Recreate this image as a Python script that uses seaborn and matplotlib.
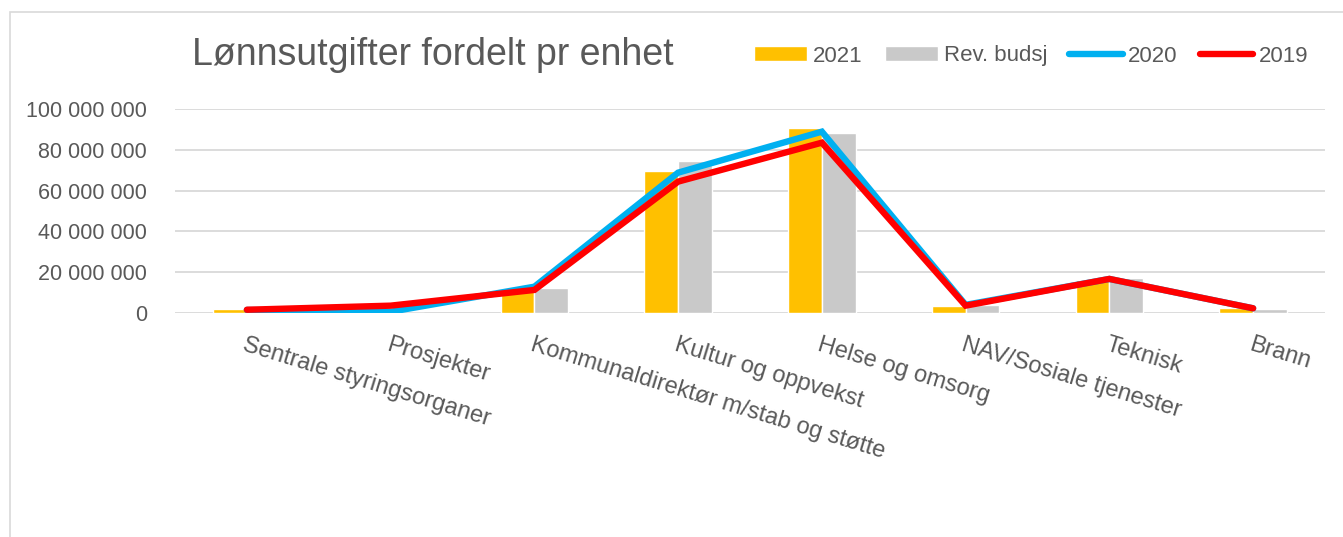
import seaborn as sns
import matplotlib.pyplot as plt
import matplotlib.ticker as mticker
import pandas as pd
import numpy as np

enheter = ["Sentrale styringsorganer", "Prosjekter", "Kommunaldirektør m/stab og støtte",
           "Kultur og oppvekst", "Helse og omsorg", "NAV/Sosiale tjenester", "Teknisk", "Brann"]
v2021 = [1.8e6, 0.1e6, 11.6e6, 69.6e6, 90.8e6, 3.4e6, 16.2e6, 2.5e6]
rev_budsj = [0.1e6, 0.1e6, 12.1e6, 74.7e6, 88.2e6, 3.9e6, 17.2e6, 2.0e6]
v2020 = [1.5e6, 0.6e6, 12.9e6, 68.8e6, 88.9e6, 4.0e6, 16.7e6, 2.3e6]
v2019 = [1.6e6, 3.6e6, 11.3e6, 64.4e6, 83.5e6, 3.6e6, 16.7e6, 2.3e6]

sns.set_theme(style="white")
plt.rcParams["font.family"] = ["Liberation Sans", "DejaVu Sans"]
grey_text = "#595959"

bars = pd.DataFrame({
    "enhet": enheter * 2,
    "verdi": v2021 + rev_budsj,
    "serie": ["2021"] * len(enheter) + ["Rev. budsj"] * len(enheter),
})
pos = np.arange(len(enheter))
lines = pd.DataFrame({
    "pos": np.concatenate([pos, pos]),
    "verdi": v2020 + v2019,
    "serie": ["2020"] * len(enheter) + ["2019"] * len(enheter),
})

fig = plt.figure(figsize=(13.43, 5.37), dpi=100)
fig.patches.append(plt.Rectangle((10 / 1343, -0.01), 1.1, 1 - 12 / 537 + 0.01, transform=fig.transFigure,
                                 fill=False, edgecolor="#d9d9d9", linewidth=1.2))
ax = fig.add_axes([175 / 1343, 1 - 313 / 537, 1150 / 1343, 204 / 537])

sns.barplot(data=bars, x="enhet", y="verdi", hue="serie", order=enheter,
            palette={"2021": "#FFC000", "Rev. budsj": "#C9C9C9"}, width=0.47, gap=0,
            saturation=1, ax=ax, zorder=2)
sns.lineplot(data=lines, x="pos", y="verdi", hue="serie", hue_order=["2020", "2019"],
             palette={"2020": "#00B0F0", "2019": "#FF0000"}, linewidth=4.6,
             solid_capstyle="round", solid_joinstyle="miter", ax=ax, zorder=3)

ax.set_xlim(-0.5, len(enheter) - 0.5)
ax.set_ylim(0, 100e6)
ax.set_yticks(np.arange(0, 100e6 + 1, 20e6))
ax.yaxis.set_major_formatter(mticker.FuncFormatter(lambda v, p: f"{v:,.0f}".replace(",", " ")))
ax.yaxis.grid(True, color="#d9d9d9", linewidth=1.3, zorder=0)
ax.set_axisbelow(True)
for s in ax.spines.values():
    s.set_visible(False)
ax.tick_params(axis="y", labelsize=15.5, colors=grey_text, length=0, pad=20)
ax.tick_params(axis="x", labelsize=17, colors=grey_text, length=0, pad=15)
ax.set_xticks(pos)
ax.set_xticklabels(enheter, rotation=-17, ha="left", rotation_mode="anchor")
ax.set_xlabel("")
ax.set_ylabel("")

handles, labels = ax.get_legend_handles_labels()
if ax.legend_:
    ax.legend_.remove()
hmap = dict(zip(labels, handles))
order = ["2021", "Rev. budsj", "2020", "2019"]
leg = fig.legend([hmap[k] for k in order], order, loc="center left", bbox_to_anchor=(734 / 1343, 1 - 56 / 537),
                 ncol=4, frameon=False, fontsize=16, handlelength=2.4, handleheight=0.65,
                 handletextpad=0.25, columnspacing=1.0)
for t in leg.get_texts():
    t.set_color(grey_text)

fig.text(192 / 1343, 1 - 55 / 537, "Lønnsutgifter fordelt pr enhet", fontsize=27,
         color=grey_text, va="center", ha="left")

fig.savefig("out.png", dpi=100)
